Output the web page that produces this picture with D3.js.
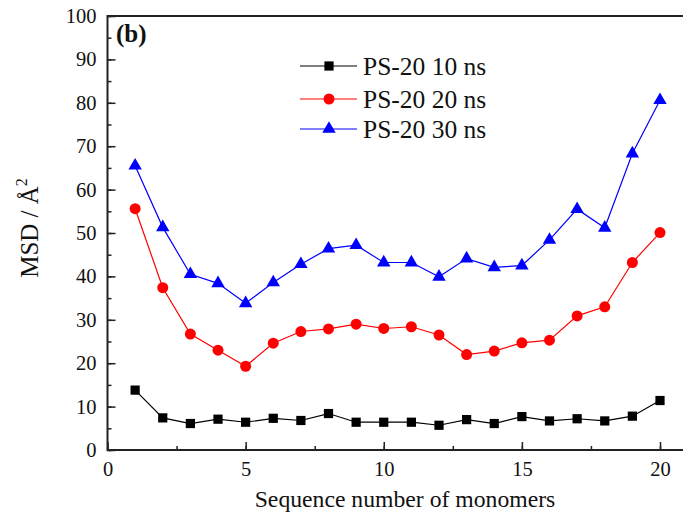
<!DOCTYPE html>
<html>
<head>
<meta charset="utf-8">
<script src="https://cdn.jsdelivr.net/npm/d3@7"></script>
<style>
  body { margin: 0; background: #fff; }
  svg { display: block; font-family: "Liberation Serif", "Times New Roman", serif; }
</style>
</head>
<body>
<svg id="chart" width="683" height="517"></svg>
<script>
// monomer index along the chain
var monomers = [1,2,3,4,5,6,7,8,9,10,11,12,13,14,15,16,17,18,19,20];

// MSD values (Å^2)
var msd10 = [13.8,7.4,6.1,7.1,6.4,7.3,6.8,8.4,6.4,6.4,6.4,5.7,7.0,6.1,7.7,6.7,7.2,6.7,7.8,11.4];
var msd20 = [55.6,37.4,26.7,23.0,19.3,24.6,27.3,27.9,29.0,28.0,28.4,26.5,22.0,22.8,24.7,25.3,30.9,33.0,43.2,50.1];
var msd30 = [65.5,51.3,40.5,38.4,33.8,38.6,42.8,46.4,47.2,43.2,43.2,39.9,44.1,42.1,42.5,48.4,55.5,51.2,68.3,80.6];

var seriesNames = ["PS-20 10 ns", "PS-20 20 ns", "PS-20 30 ns"];
var xTicks = [0,5,10,15,20];
var yTicks = [0,10,20,30,40,50,60,70,80,90,100];

var svg = d3.select("#chart");
var mLeft = 107.5, mTop = 16, mBottom = 450;

var xScale = d3.scaleLinear().domain([0,20]).range([mLeft, 660]);
var yScale = d3.scaleLinear().domain([0,100]).range([mBottom, mTop]);
var mRight = xScale(21.5);

//----------------------------------- eixos
// ticks menores
svg.append("g").attr("transform","translate(0,"+mBottom+")")
  .call(d3.axisBottom(xScale).tickValues(d3.range(0,21,2.5)).tickSize(-4).tickFormat(""))
  .call(function(g){ g.select(".domain").remove(); });
svg.append("g").attr("transform","translate("+mLeft+",0)")
  .call(d3.axisLeft(yScale).tickValues(d3.range(0,101,5)).tickSize(-4).tickFormat(""))
  .call(function(g){ g.select(".domain").remove(); });

var xAxis = svg.append("g").attr("transform","translate(0,"+mBottom+")")
  .call(d3.axisBottom(xScale).tickValues(xTicks).tickSize(-8).tickPadding(11).tickFormat(d3.format("d")));
var yAxis = svg.append("g").attr("transform","translate("+mLeft+",0)")
  .call(d3.axisLeft(yScale).tickValues(yTicks).tickSize(-8).tickPadding(11).tickFormat(d3.format("d")));

[xAxis, yAxis].forEach(function(g){
  g.select(".domain").remove();
  g.selectAll("text").attr("font-size","20.5px").attr("fill","#111").attr("font-family","Liberation Serif");
});
svg.selectAll(".tick line").attr("stroke","#222").attr("stroke-width",1.5);

// moldura
svg.append("rect")
  .attr("x", mLeft).attr("y", mTop)
  .attr("width", mRight - mLeft).attr("height", mBottom - mTop)
  .attr("fill","none").attr("stroke","#222").attr("stroke-width",2);

//----------------------------------- series
var series = [
  {nome: seriesNames[0], valores: msd10, cor: "#000", marca: d3.symbolSquare, tam: 85},
  {nome: seriesNames[1], valores: msd20, cor: "#ff0000", marca: d3.symbolCircle, tam: 95},
  {nome: seriesNames[2], valores: msd30, cor: "#0000ff", marca: d3.symbolTriangle, tam: 78}
];

var linha = d3.line()
  .x(function(d){ return xScale(d[0]); })
  .y(function(d){ return yScale(d[1]); });

series.forEach(function(s){
  var pts = monomers.map(function(m,i){ return [m, s.valores[i]]; });
  svg.append("path")
    .attr("d", linha(pts))
    .attr("fill","none")
    .attr("stroke", s.cor)
    .attr("stroke-width", 1.2);
  svg.selectAll(null)
    .data(pts)
    .enter()
    .append("path")
    .attr("d", d3.symbol().type(s.marca).size(s.tam))
    .attr("transform", function(d){ return "translate("+xScale(d[0])+","+yScale(d[1])+")"; })
    .attr("fill", s.cor);
});

//----------------------------------- legenda
var legY = [66, 99, 129];
series.forEach(function(s,i){
  var g = svg.append("g").attr("transform","translate(0,"+legY[i]+")");
  g.append("line").attr("x1",300).attr("x2",357).attr("y1",0).attr("y2",0)
    .attr("stroke", s.cor).attr("stroke-width",1.2);
  g.append("path").attr("d", d3.symbol().type(s.marca).size(s.tam))
    .attr("transform","translate(329,0)").attr("fill", s.cor);
  g.append("text").attr("x",363).attr("y",9).attr("font-size","25.5px").attr("fill","#111")
    .text(s.nome);
});

//----------------------------------- rotulos
svg.append("text").attr("x",116).attr("y",42).attr("font-size","25px")
  .attr("font-weight","bold").attr("fill","#111").text("(b)");

svg.append("text")
  .attr("x", 405).attr("y", 507)
  .attr("text-anchor","middle").attr("font-size","23.7px").attr("fill","#111")
  .text("Sequence number of monomers");

var yt = svg.append("text")
  .attr("transform","translate(38,228) rotate(-90)")
  .attr("text-anchor","middle").attr("font-size","25px").attr("fill","#111");
yt.append("tspan").text("MSD / Å");
yt.append("tspan").attr("dy",-11).attr("font-size","16px").text("2");
</script>
</body>
</html>
